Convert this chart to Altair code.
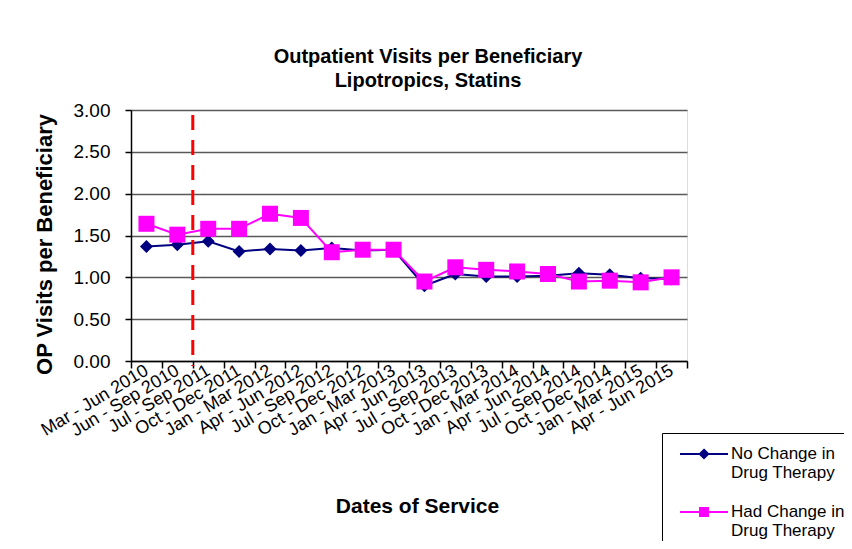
import altair as alt
import pandas as pd

periods = ["Mar - Jun 2010", "Jun - Sep 2010", "Jul - Sep 2011", "Oct - Dec 2011",
           "Jan - Mar 2012", "Apr - Jun 2012", "Jul - Sep 2012", "Oct - Dec 2012",
           "Jan - Mar 2013", "Apr - Jun 2013", "Jul - Sep 2013", "Oct - Dec 2013",
           "Jan - Mar 2014", "Apr - Jun 2014", "Jul - Sep 2014", "Oct - Dec 2014",
           "Jan - Mar 2015", "Apr - Jun 2015"]
no_change = [1.37, 1.39, 1.43, 1.31, 1.34, 1.32, 1.35, 1.32, 1.33, 0.90, 1.04, 1.01,
             1.01, 1.02, 1.05, 1.03, 0.99, 0.98]
had_change = [1.64, 1.51, 1.58, 1.58, 1.76, 1.71, 1.30, 1.33, 1.33, 0.95, 1.12, 1.09,
              1.07, 1.04, 0.95, 0.96, 0.94, 1.00]
series_names = ["No Change in Drug Therapy", "Had Change in Drug Therapy"]
series_colors = ["#000080", "#FF00FF"]
marker_shapes = ["diamond", "square"]
marker_sizes = [169, 256]
legend_paths = [
    "M-2.4,0L2.4,0M0,-0.42L0.42,0L0,0.42L-0.42,0Z",
    "M-2.4,0L2.4,0M-0.4,-0.4L0.4,-0.4L0.4,0.4L-0.4,0.4Z",
]
policy_period = "Jul - Sep 2011"
y_ticks = [0, 0.5, 1.0, 1.5, 2.0, 2.5, 3.0]

rows = []
for name, vals in zip(series_names, [no_change, had_change]):
    for i, (p, v) in enumerate(zip(periods, vals)):
        rows.append({"period": p, "idx": i, "series": name, "value": v})
df = pd.DataFrame(rows)

FONT = "Liberation Sans"

x_scale = alt.Scale(type="band", domain=periods, paddingInner=0, paddingOuter=0)
y_scale = alt.Scale(domain=[0, 3], nice=False, zero=True)

x_axis = alt.Axis(
    title="Dates of Service", titleFontSize=21, titleFontWeight="bold", titleFont=FONT,
    titleColor="black", titleX=286, titleY=145, titleBaseline="middle", titleAlign="center",
    labelAngle=-31, labelAlign="right", labelBaseline="middle", labelFontSize=18,
    labelFont=FONT, labelColor="black", labelPadding=1, labelOverlap=False, labelBound=False,
    tickBand="extent", ticks=True, tickSize=7, tickColor="black", tickWidth=1.5,
    domainColor="black", domainWidth=1.5, grid=False,
)
y_axis = alt.Axis(
    title="OP Visits per Beneficiary", titleFontSize=22, titleFontWeight="bold",
    titleFont=FONT, titleColor="black", titleAngle=-90, titleX=-87, titleY=134,
    titleAlign="center", titleBaseline="middle",
    values=y_ticks, format=".2f", labelFontSize=19, labelFont=FONT, labelColor="black",
    labelPadding=15, tickSize=6, tickColor="black", tickWidth=1.5,
    domainColor="black", domainWidth=1.5,
    grid=True, gridColor="#595959", gridWidth=1.5,
)

base = alt.Chart(df)
layers = []
for i, name in enumerate(series_names):
    sub = base.transform_filter(alt.datum.series == name)
    enc = dict(
        x=alt.X("period:N", scale=x_scale, axis=x_axis, bandPosition=0.5, sort=periods),
        y=alt.Y("value:Q", scale=y_scale, axis=y_axis),
        order=alt.Order("idx:Q"),
    )
    layers.append(sub.mark_line(color=series_colors[i], strokeWidth=2).encode(**enc))
    layers.append(
        sub.mark_point(shape=marker_shapes[i], size=marker_sizes[i], filled=True,
                       color=series_colors[i], opacity=1).encode(**enc)
    )

rule = alt.Chart(pd.DataFrame({"period": [policy_period]})).mark_rule(
    color="#FF0000", strokeWidth=3, strokeDash=[15, 10]
).encode(
    x=alt.X("period:N", scale=x_scale, axis=x_axis, bandPosition=0, sort=periods),
    y=alt.datum(2.94),
    y2=alt.datum(-0.06),
)

legend_obj = alt.Legend(
    title=None, orient="none", legendX=531, legendY=323,
    labelFontSize=17, labelFont=FONT, labelColor="black",
    labelExpr="split(replace(datum.label, ' in ', ' in|'), '|')",
    symbolSize=400, symbolStrokeWidth=2, symbolOffset=21, labelOffset=16, rowPadding=20,
    padding=10, strokeColor="black", fillColor="white", labelLimit=300,
)
legend_layer = base.transform_filter("false").mark_point(
    size=400, strokeWidth=2, opacity=1
).encode(
    stroke=alt.Stroke("series:N", scale=alt.Scale(domain=series_names, range=series_colors),
                      legend=legend_obj),
    fill=alt.Fill("series:N", scale=alt.Scale(domain=series_names, range=series_colors),
                  legend=legend_obj),
    shape=alt.Shape("series:N", scale=alt.Scale(domain=series_names, range=legend_paths),
                    legend=legend_obj),
)

chart = alt.layer(layers[0], layers[1], rule, layers[2], layers[3], legend_layer).properties(
    width=556, height=251,
    padding={"left": 123, "top": 102, "right": 157, "bottom": 180},
    autosize=alt.AutoSizeParams(type="none"),
    title=alt.TitleParams(
        text=["Outpatient Visits per Beneficiary", "Lipotropics, Statins"],
        fontSize=20, font=FONT, fontWeight="bold", color="black", lineHeight=24,
        anchor="middle", offset=10, dx=19,
    ),
).configure_view(stroke="#808080", strokeWidth=2).configure(background="white", font=FONT)

chart.save("out.html", embed_options={"renderer": "svg", "actions": False})
